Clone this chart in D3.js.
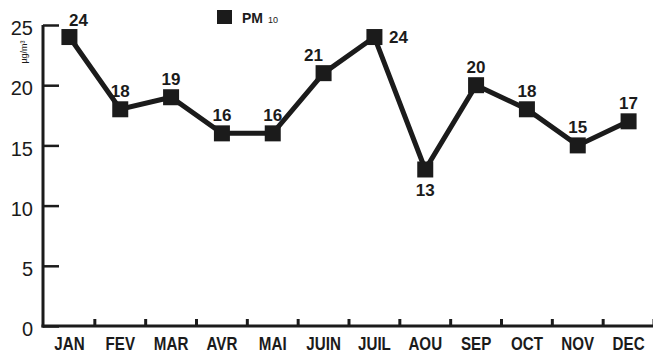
<!DOCTYPE html>
<html>
<head>
<meta charset="utf-8">
<script src="https://cdn.jsdelivr.net/npm/d3@7"></script>
<style>
  html, body { margin: 0; padding: 0; background: #fff; }
  svg { display: block; }
</style>
</head>
<body>
<svg id="chart" width="653" height="354"></svg>
<script>
// Monthly PM10 concentration (µg/m³)
const months = ["JAN", "FEV", "MAR", "AVR", "MAI", "JUIN", "JUIL", "AOU", "SEP", "OCT", "NOV", "DEC"];
const pm10 = [24, 18, 19, 16, 16, 21, 24, 13, 20, 18, 15, 17];
const yTicks = [0, 5, 10, 15, 20, 25];
const seriesName = "PM";
const seriesSub = "10";
const unitLabel = "µg/m³";

const ink = "#1b1b1b";
const svg = d3.select("#chart");

const x = d3.scaleBand().domain(months).range([44, 654]).padding(0);
const y = d3.scaleLinear().domain([0, 25]).range([326, 25]);
const cx = m => x(m) + x.bandwidth() / 2;

// value-label placement around each marker
const labelPlacement = {
  JAN: [9, -11], JUIN: [-10, -12], JUIL: [24, 6], AOU: [0, 27]
};
const defaultPlacement = [0, -12];

// Y axis: ticks pointing into the plot
const yAxis = d3.axisLeft(y).tickValues(yTicks).tickSizeInner(-16).tickSizeOuter(0).tickPadding(10);
const gy = svg.append("g").attr("transform", "translate(43,0)").call(yAxis);
gy.select(".domain").attr("stroke", ink).attr("stroke-width", 3).attr("d", `M0,${y(25)}V${y(0) + 1.5}`);
gy.selectAll(".tick line").attr("stroke", ink).attr("stroke-width", 2.5);
gy.selectAll(".tick text")
  .attr("fill", ink)
  .attr("dy", "0.48em")
  .style("font-family", "'Liberation Sans', Arial, sans-serif")
  .style("font-size", "20px");

// X axis baseline and separators between months
svg.append("line")
  .attr("x1", 41.5).attr("x2", 653).attr("y1", y(0)).attr("y2", y(0))
  .attr("stroke", ink).attr("stroke-width", 3);
svg.append("g").selectAll("line")
  .data(months)
  .join("line")
  .attr("x1", m => x(m) + x.bandwidth())
  .attr("x2", m => x(m) + x.bandwidth())
  .attr("y1", y(0))
  .attr("y2", y(0) - 7)
  .attr("stroke", ink).attr("stroke-width", 3);

// Month names in a condensed bold face
svg.append("g").selectAll("text")
  .data(months)
  .join("text")
  .attr("transform", m => `translate(${cx(m)},350) scale(0.82,1)`)
  .attr("text-anchor", "middle")
  .attr("fill", ink)
  .style("font-family", "'Liberation Sans', Arial, sans-serif")
  .style("font-weight", "bold")
  .style("font-size", "18.5px")
  .text(m => m);

// Unit label
svg.append("text")
  .attr("transform", "translate(27,52) rotate(-90)")
  .attr("text-anchor", "middle")
  .attr("fill", ink)
  .style("font-family", "'Liberation Sans', Arial, sans-serif")
  .style("font-size", "9px")
  .text(unitLabel);

// Series line
const data = months.map((m, i) => ({ m, v: pm10[i] }));
svg.append("path")
  .datum(data)
  .attr("fill", "none")
  .attr("stroke", ink)
  .attr("stroke-width", 5)
  .attr("stroke-linejoin", "miter")
  .attr("d", d3.line().x(d => cx(d.m)).y(d => y(d.v)));

// Square markers
const ms = 16;
svg.append("g").selectAll("rect")
  .data(data)
  .join("rect")
  .attr("x", d => cx(d.m) - ms / 2)
  .attr("y", d => y(d.v) - ms / 2)
  .attr("width", ms).attr("height", ms)
  .attr("fill", ink);

// Value labels
svg.append("g").selectAll("text")
  .data(data)
  .join("text")
  .attr("x", d => cx(d.m) + (labelPlacement[d.m] || defaultPlacement)[0])
  .attr("y", d => y(d.v) + (labelPlacement[d.m] || defaultPlacement)[1])
  .attr("text-anchor", "middle")
  .attr("fill", ink)
  .style("font-family", "'Liberation Sans', Arial, sans-serif")
  .style("font-weight", "bold")
  .style("font-size", "17px")
  .text(d => d.v);

// Legend
const lg = svg.append("g").attr("transform", "translate(217,10)");
lg.append("rect").attr("width", 15).attr("height", 14).attr("fill", ink);
const lt = lg.append("text")
  .attr("x", 25).attr("y", 13)
  .attr("fill", ink)
  .style("font-family", "'Liberation Sans', Arial, sans-serif");
lt.append("tspan").style("font-weight", "bold").style("font-size", "14px").text(seriesName);
lt.append("tspan").attr("dx", 5).style("font-size", "9px").text(seriesSub);
</script>
</body>
</html>
